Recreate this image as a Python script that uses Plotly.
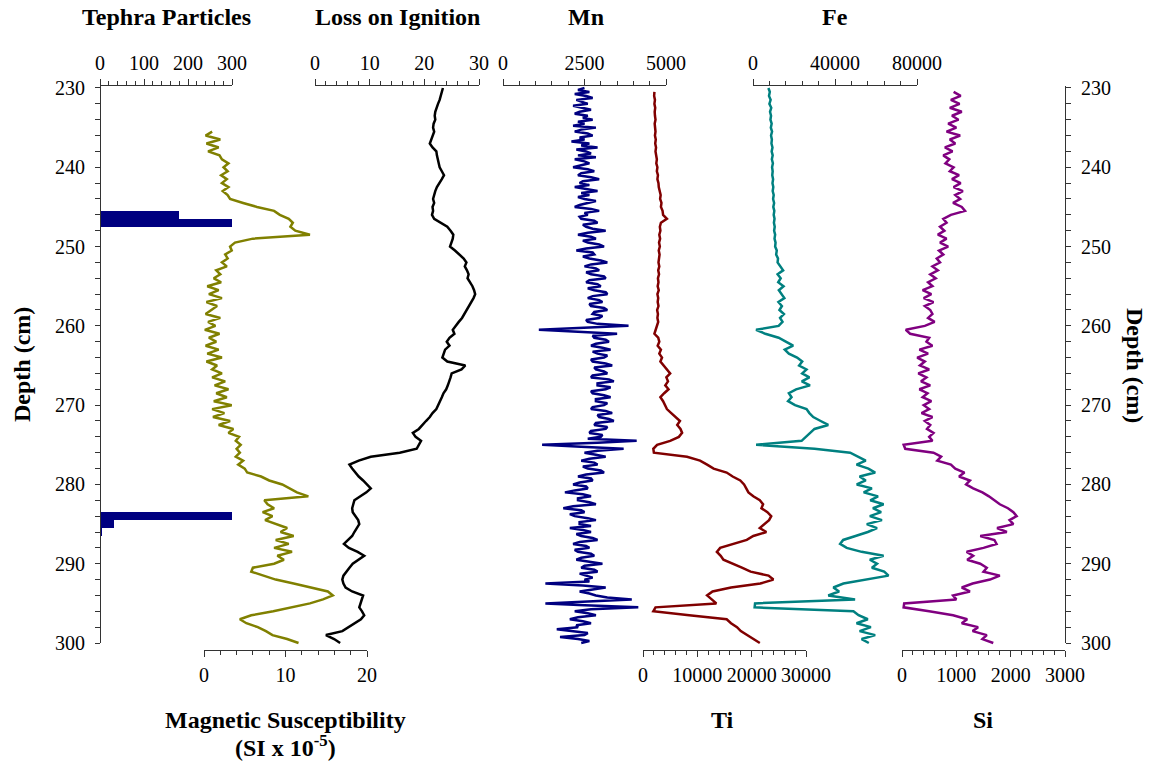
import numpy as np
import plotly.graph_objects as go

# Sampling grids of the core logs (cm below surface)
depth_cm = np.arange(230.0, 300.25, 0.5)
mn_depth_cm = np.arange(230.0, 300.1, 0.25)

# Tephra shard counts per 1 cm interval
tephra_depth = [246, 247, 284, 285, 286, 287]
tephra_count = [180, 300, 300, 32, 4, 2]

# Magnetic susceptibility (SI x 10^-5); record starts at 235.5 cm
mag_sus = [None] * 11 + [
    1.0, 0.2, 2.0, 0.3, 1.8, 0.5, 1.9, 2.2, 3.0,
    2.4, 2.9, 2.1, 2.8, 2.2, 3.0, 2.3, 2.9, 3.2, 4.8,
    6.5, 8.6, 9.3, 10.4, 10.9, 10.6, 11.2, 13.0, 6.0, 3.8,
    3.2, 3.4, 2.6, 2.9, 2.2, 2.8, 1.5, 2.0, 1.2, 2.1,
    0.4, 1.8, 0.6, 2.2, 0.3, 1.6, 0.9, 0.2, 2.0, 0.5,
    1.4, 0.1, 1.9, 0.6, 1.5, 0.2, 1.8, 0.4, 2.2, 0.3,
    1.6, 1.0, 2.2, 1.0, 2.6, 1.3, 3.0, 1.5, 2.8, 1.2,
    3.4, 1.0, 2.5, 1.1, 3.2, 1.8, 3.6, 3.0, 4.3, 3.9,
    4.5, 4.0, 4.4, 3.9, 4.8, 4.2, 5.0, 5.3, 7.0, 8.0,
    9.6, 10.5, 11.4, 12.8, 7.4, 7.8, 8.6, 7.2, 8.4, 7.5,
    8.9, 10.2, 9.4, 11.0, 8.8, 10.4, 8.6, 10.8, 9.0, 9.8,
    8.6, 6.0, 5.8, 7.2, 8.8, 11.0, 13.2, 15.2, 15.8, 14.6,
    13.0, 10.8, 8.5, 5.8, 4.4, 5.2, 6.6, 7.6, 8.4, 10.2,
    11.6,
]

# Loss on ignition (%)
loi = [
    23.4, 23.2, 23.1, 22.8, 22.5, 22.2, 22.0, 21.9, 22.0, 21.7,
    21.6, 21.8, 21.5, 21.2, 21.0, 21.5, 22.2, 22.3, 22.5, 22.7,
    22.8, 23.2, 23.6, 23.2, 22.7, 22.3, 22.0, 21.8, 21.6, 21.8,
    21.5, 21.6, 21.4, 21.8, 23.0, 24.2, 24.8, 25.3, 25.2, 24.9,
    24.7, 25.6, 26.5, 27.2, 27.7, 27.4, 27.8, 28.1, 27.9, 28.4,
    28.8, 29.1, 29.3, 29.0, 28.6, 28.2, 27.7, 27.3, 26.9, 26.3,
    25.8, 25.2, 25.5, 24.6, 24.1, 24.6, 23.8, 23.6, 23.3, 24.2,
    27.5, 26.8, 25.0, 24.8, 24.6, 24.3, 24.0, 23.5, 23.2, 22.9,
    22.5, 22.2, 21.5, 21.0, 20.3, 19.6, 19.0, 17.9, 18.4, 19.4,
    19.0, 18.6, 15.5, 10.2, 8.0, 6.3, 6.8, 7.4, 8.0, 8.8,
    9.6, 10.2, 9.4, 8.2, 7.2, 7.0, 6.8, 6.9, 7.4, 7.9,
    8.1, 7.6, 7.2, 6.8, 6.0, 5.3, 6.2, 7.8, 9.0, 8.0,
    6.9, 6.3, 5.8, 5.2, 5.0, 5.2, 5.6, 6.8, 8.8, 8.6,
    8.3, 8.1, 8.6, 9.0, 8.4, 7.3, 6.2, 5.0, 2.0, 3.5,
    4.6,
]

# XRF counts; Mn is logged at 0.25 cm
mn = [
    2500, 2300, 2650, 2200, 2550, 2750, 2250, 2450, 2600, 2150,
    2400, 2700, 2350, 2200, 2600, 2450, 2750, 2300, 2500, 2150,
    2850, 2400, 2200, 2600, 2750, 2350, 2500, 2100, 2650, 2400,
    2900, 2250, 2550, 2700, 2300, 2850, 2200, 2500, 2650, 2350,
    2150, 2600, 2800, 2400, 2300, 2700, 2950, 2450, 2350, 2650,
    2200, 2550, 2900, 2400, 2650, 2300, 2500, 2850, 2600, 2350,
    2200, 2700, 2950, 2500, 2600, 2350, 2400, 2800, 2900, 2450,
    2550, 2750, 3150, 2600, 2300, 2700, 2850, 2450, 2600, 2950,
    3100, 2550, 2250, 2750, 2800, 2450, 2650, 3000, 3200, 2700,
    2500, 2850, 2950, 2550, 2700, 3100, 3150, 2650, 2550, 2900,
    3000, 2600, 2800, 3150, 3200, 2750, 2600, 2950, 3050, 2650,
    2700, 3100, 3200, 2800, 2750, 3050, 2950, 2550, 2600, 2900,
    3850, 2600, 1100, 2300, 3500, 2750, 2800, 3150, 3250, 2850,
    2700, 3050, 3300, 2750, 2900, 3200, 3100, 2700, 2750, 3150,
    3350, 2800, 2850, 3100, 3200, 2750, 2700, 3250, 3400, 2900,
    2900, 3300, 3150, 2700, 2750, 3100, 3300, 2850, 2850, 3200,
    3100, 2750, 2700, 3150, 3350, 2900, 2950, 3250, 3400, 2850,
    2800, 3200, 3150, 2700, 2650, 3050, 3000, 2600, 4100, 2900,
    1200, 2400, 3700, 2900, 2500, 2850, 3150, 2650, 2400, 2800,
    2900, 2450, 2600, 3000, 3100, 2550, 2300, 2700, 2750, 2350,
    2150, 2550, 2600, 2200, 1900, 2450, 2700, 2300, 2300, 2650,
    2850, 2150, 1850, 2400, 2500, 2050, 2200, 2600, 2850, 2350,
    2350, 2700, 2050, 2450, 2700, 2250, 2400, 2750, 2900, 2350,
    2150, 2550, 2650, 2200, 2300, 2700, 2800, 2400, 2250, 2650,
    3050, 2500, 2400, 2800, 2900, 2350, 2550, 2750, 2500, 2650,
    1300, 2450, 3150, 2700, 2350, 2650, 2850, 3200, 3950, 2600,
    1300, 2500, 4150, 2700, 2200, 2600, 2850, 2300, 2050, 2450,
    2700, 2250, 2300, 1650, 2100, 2600, 2500, 1750, 2300, 2650,
    2400,
]

ti = [
    None, 2100, 2050, 2200, 2100, 2250, 2150, 2200, 2300, 2150,
    2250, 2300, 2200, 2350, 2250, 2400, 2300, 2450, 2550, 2450,
    2650, 2550, 2750, 2650, 2850, 2900, 3100, 3250, 3150, 3400,
    3300, 3600, 3700, 4400, 3300, 3100, 3200, 3000, 3150, 2950,
    3100, 2900, 3050, 2950, 2850, 3000, 2800, 2950, 2750, 2850,
    2700, 2900, 2650, 2800, 2700, 2850, 2600, 2750, 2650, 2800,
    2600, 2300, 2100, 2800, 3000, 2700, 3300, 3000, 3500, 3200,
    3800, 4500, 5000, 4300, 4600, 4100, 4700, 3900, 3200, 3700,
    4100, 4400, 5200, 6000, 6800, 6300, 6900, 7200, 6600, 5000,
    2600, 1900, 2000, 8100, 10500, 11800, 13000, 15400, 16500, 17900,
    18600, 19000, 19400, 20300, 21500, 22100, 21800, 22900, 23600, 23200,
    22400, 21500, 22700, 20300, 19100, 16800, 14200, 13600, 14300, 14800,
    16600, 18200, 19800, 23100, 24000, 21600, 16200, 12800, 11800, 12600,
    13500, 2300, 1900, 8500, 15400, 16200, 17300, 18000, 19200, 20500,
    21500,
]

fe = [
    7500, 8200, 7800, 8600, 8000, 8900, 8300, 8800, 8500, 9100,
    8700, 9300, 8800, 9200, 9000, 9500, 9100, 9600, 9200, 9700,
    9300, 9600, 9400, 9800, 9500, 9900, 9600, 10100, 9800, 10300,
    9900, 10400, 10100, 10500, 10200, 10600, 10300, 10800, 10500, 11000,
    10800, 11600, 11300, 12200, 12000, 13200, 14700, 12000, 13500, 12300,
    14900, 12600, 13800, 15300, 12400, 14100, 12900, 15100, 13200, 14400,
    12500, 1500, 6000, 12500, 16000, 19600, 15500, 17500, 21500, 24000,
    22500, 26100, 24000, 27500, 23800, 27800, 21000, 17500, 18800, 17100,
    20500, 26100, 27500, 29400, 33000, 36700, 30000, 28000, 26100, 23700,
    1500, 30000, 47400, 51000, 55000, 50500, 56300, 59600, 52000, 55000,
    50600, 58000, 54000, 61000, 57200, 63700, 58500, 62500, 57000, 62900,
    55500, 60500, 56000, 50000, 44000, 42500, 45700, 53000, 63700, 57000,
    60500, 58000, 64000, 66100, 55000, 44100, 39200, 42000, 36700, 49800,
    1000, 800, 49000, 51500, 56000, 50500, 57500, 52000, 59600, 53000,
    56500,
]

si = [
    None, 950, 1080, 900, 1060, 880, 1100, 920, 1040, 850,
    1000, 820, 1070, 880, 980, 790, 930, 760, 870, 800,
    950, 880, 1050, 920, 1080, 950, 1120, 980, 1070, 940,
    1100, 1160, 900, 760, 820, 700, 780, 660, 820, 700,
    850, 680, 760, 640, 700, 560, 660, 520, 620, 480,
    560, 380, 540, 400, 580, 420, 520, 560, 480, 600,
    420, 70, 150, 500, 450, 560, 320, 480, 280, 420,
    330, 500, 300, 450, 350, 520, 320, 470, 380, 540,
    400, 500, 360, 560, 420, 520, 460, 580, 500, 560,
    30, 60, 580, 720, 650, 900, 980, 1150, 1050, 1250,
    1180, 1310, 1480, 1600, 1700, 1800, 1950, 2050, 2110, 1980,
    2050, 1750, 1930, 1440, 1700, 1740, 1500, 1190, 1310, 1200,
    1440, 1560, 1500, 1800, 1620, 1300, 1100, 1250, 940, 1000,
    40, 30, 500, 940, 1200, 1100, 1400, 1300, 1560, 1480,
    1680,
]

FONT = "Liberation Serif"
W, H = 1158, 771
L, R, T, B = 100, 1065, 86, 650  # plotting rectangle in pixels
AX = "#333333"


def fx(px):
    return (px - L) / (R - L)


def fy(py):
    return (B - py) / (B - T)


def x_axis(left, right, side, rng, dtick, minor):
    return dict(
        domain=[fx(left), fx(right)], anchor="y", side=side, range=rng,
        tick0=0, dtick=dtick, tickformat="d",
        showline=True, linecolor=AX, linewidth=1,
        ticks="outside", ticklen=6, tickcolor=AX, tickwidth=1,
        minor=dict(dtick=minor, ticks="outside", ticklen=4, tickcolor=AX,
                   tickwidth=1, showgrid=False),
        showgrid=False, zeroline=False, ticklabelstandoff=1,
        tickfont=dict(family=FONT, size=20, color="black"),
    )


def depth_axis(side, pos):
    return dict(
        domain=[fy(643), 1], range=[300, 229.75], anchor="free",
        position=pos, side=side, tick0=230, dtick=10,
        showline=True, linecolor=AX, linewidth=1,
        ticks="outside", ticklen=5, tickcolor=AX, tickwidth=1,
        minor=dict(dtick=2, ticks="outside", ticklen=5, tickcolor=AX,
                   tickwidth=1, showgrid=False),
        showgrid=False, zeroline=False, ticklabelstandoff=6,
        tickfont=dict(family=FONT, size=20, color="black"),
    )


fig = go.Figure()

fig.add_trace(go.Bar(
    x=tephra_count, y=tephra_depth, orientation="h", width=1,
    marker=dict(color="#000080", line=dict(width=0)),
    xaxis="x", yaxis="y",
))

series = [
    (mag_sus, depth_cm, "x2", "#808000"),
    (loi, depth_cm, "x3", "#000000"),
    (mn, mn_depth_cm, "x4", "#000080"),
    (ti, depth_cm, "x5", "#800000"),
    (fe, depth_cm, "x6", "#008080"),
    (si, depth_cm, "x7", "#800080"),
]
for vals, dep, xa, col in series:
    fig.add_trace(go.Scatter(
        x=vals, y=dep, mode="lines", xaxis=xa, yaxis="y",
        line=dict(color=col, width=2.5),
    ))

# depth scales on both sides
for ya in ("y2", "y3"):
    fig.add_trace(go.Scatter(x=[None], y=[None], xaxis="x", yaxis=ya,
                             mode="lines", hoverinfo="skip"))

fig.update_layout(
    width=W, height=H, autosize=False,
    margin=dict(l=L, r=W - R, t=T, b=H - B, pad=0),
    paper_bgcolor="white", plot_bgcolor="rgba(0,0,0,0)",
    showlegend=False, bargap=0,
    font=dict(family=FONT, size=20, color="black"),
    yaxis=dict(domain=[0, 1], range=[300.88, 229.75], visible=False),
    yaxis2=depth_axis("left", 0),
    yaxis3=depth_axis("right", 1),
    xaxis=x_axis(100, 232, "top", [0, 300], 100, 20),
    xaxis2=x_axis(204, 367, "bottom", [0, 20], 10, 2),
    xaxis3=x_axis(315, 479, "top", [0, 30], 10, 2),
    xaxis4=x_axis(503, 666, "top", [0, 5000], 2500, 500),
    xaxis5=x_axis(643, 806, "bottom", [0, 30000], 10000, 2000),
    xaxis6=x_axis(753, 917, "top", [0, 80000], 40000, 8000),
    xaxis7=x_axis(902, 1065, "bottom", [0, 3000], 1000, 200),
)

titles = [
    ("Tephra Particles", 166, 17, 0),
    ("Loss on Ignition", 397, 17, 0),
    ("Mn", 586, 17, 0),
    ("Fe", 835, 17, 0),
    ("Magnetic Susceptibility", 285, 720, 0),
    ("(SI x 10<sup>-5</sup>)", 285, 746, 0),
    ("Ti", 722, 720, 0),
    ("Si", 983, 720, 0),
    ("Depth (cm)", 22, 365, -90),
    ("Depth (cm)", 1135, 365, 90),
]
for text, px, py, ang in titles:
    fig.add_annotation(
        text=f"<b>{text}</b>", x=fx(px), y=fy(py), xref="paper", yref="paper",
        xanchor="center", yanchor="middle", showarrow=False, textangle=ang,
        font=dict(family=FONT, size=24, color="black"),
    )

fig.write_html("out.html")
